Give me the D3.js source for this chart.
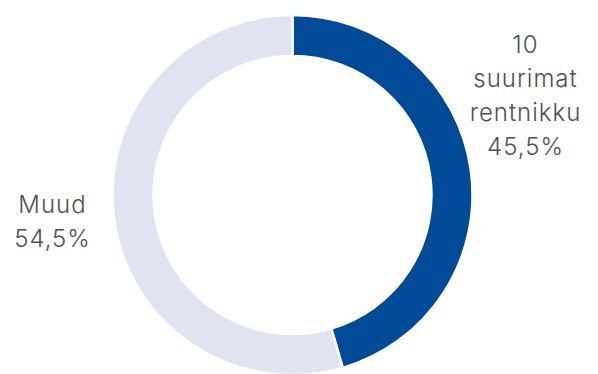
<!DOCTYPE html>
<html><head><meta charset="utf-8">
<script src="https://cdn.jsdelivr.net/npm/d3@7"></script>
<style>body{margin:0;background:#fff}svg{display:block}</style>
</head><body>
<svg id="c" width="598" height="374"></svg>
<script>
const categories = ["10 suurimat rentnikku", "Muud"];
const values = [45.5, 54.5];
const labelLines = [["10", "suurimat", "rentnikku", "45,5%"], ["Muud", "54,5%"]];
const colors = ["#004A98", "#DFE3F2"];

const svg = d3.select("#c");
const cx = 292.5, cy = 195, R = 180, r = 139;
const g = svg.append("g").attr("transform", `translate(${cx},${cy})`);
const pie = d3.pie().sort(null).value(d => d)(values);
const arc = d3.arc().innerRadius(r).outerRadius(R);
g.selectAll("path").data(pie).join("path")
  .attr("d", arc)
  .attr("fill", (d, i) => colors[i])
  .attr("stroke", "#fff").attr("stroke-width", 2.5);

const labelPos = [{x: 525, y: 53}, {x: 52, y: 213}];
const lh = 34;
labelLines.forEach((lines, i) => {
  const t = svg.append("text")
    .attr("text-anchor", "middle")
    .attr("font-family", "Inter, 'Noto Sans', sans-serif")
    .attr("font-size", 24)
    .attr("font-weight", 300)
    .attr("letter-spacing", 1)
    .attr("fill", "#505050");
  lines.forEach((l, j) => {
    t.append("tspan").attr("x", labelPos[i].x + 0.5).attr("y", labelPos[i].y + j * lh).text(l);
  });
});
</script>
</body></html>
